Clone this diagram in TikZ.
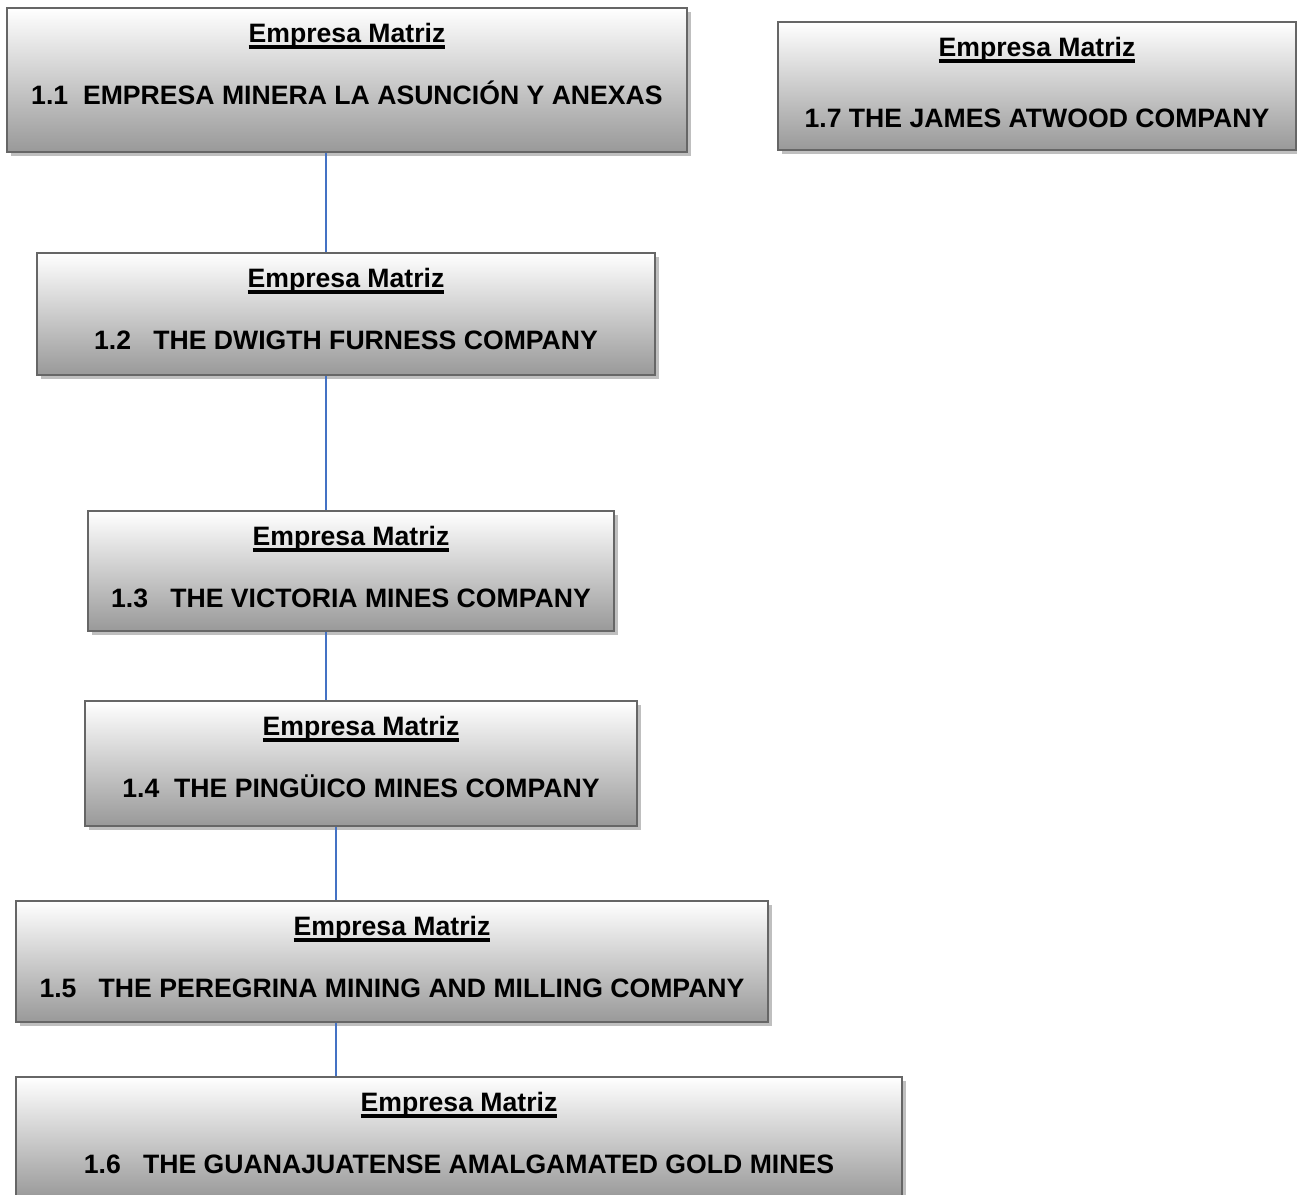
\documentclass[tikz,border=0pt]{standalone}
\usepackage{fontspec}
\setmainfont{Liberation Sans}
\usetikzlibrary{shadows,calc}
\definecolor{linkblue}{RGB}{68,114,196}
\definecolor{boxedge}{RGB}{102,102,102}
\newcommand{\pxu}{0.02cm}
% heavier underline than \underline gives
\newcommand{\thickul}[1]{\setbox0\hbox{#1}\rlap{\rule[-0.125cm]{\wd0}{0.075cm}}\box0}

\begin{document}
\begin{tikzpicture}[x=\pxu, y=-\pxu,
    box/.style={draw=boxedge, line width=1.2pt, top color=white, bottom color=black!40,
        inner sep=0pt, drop shadow={shadow xshift=0.08cm, shadow yshift=-0.08cm, fill=black!25, opacity=1}},
    title/.style={anchor=base, inner sep=0pt, font=\bfseries\fontsize{15.15}{18}\selectfont},
    link/.style={draw=linkblue, line width=0.85pt}]

    % picture frame, the last box runs off the bottom
    \clip (0,0) rectangle (1297,1194);

    % spine of boxes
    \node[box, minimum width=680*\pxu, minimum height=144*\pxu] (b1) at (347,80) {};
    \node[box, minimum width=618*\pxu, minimum height=122*\pxu] (b2) at (346,314) {};
    \node[box, minimum width=526*\pxu, minimum height=120*\pxu] (b3) at (351,571) {};
    \node[box, minimum width=552*\pxu, minimum height=125*\pxu] (b4) at (361,763.5) {};
    \node[box, minimum width=752*\pxu, minimum height=121*\pxu] (b5) at (392,961.5) {};
    \node[box, minimum width=886*\pxu, minimum height=122*\pxu] (b6) at (459,1138) {};

    % box on its own to the right
    \node[box, minimum width=518*\pxu, minimum height=128*\pxu] (b7) at (1037,86) {};

    % heading of every box
    \foreach \i in {1,...,7}
    \node[title] (h\i) at ($(b\i.north)+(0,36)$) {\thickul{Empresa Matriz}};

    % company names
    \node[title] (n1) at ($(b1.north)+(0,98)$) {1.1\ \ EMPRESA MINERA LA ASUNCIÓN Y ANEXAS};
    \node[title] (n2) at ($(b2.north)+(0,98)$) {1.2\ \ \ THE DWIGTH FURNESS COMPANY};
    \node[title] (n3) at ($(b3.north)+(0,98)$) {1.3\ \ \ THE VICTORIA MINES COMPANY};
    \node[title] (n4) at ($(b4.north)+(0,98)$) {1.4\ \ THE PINGÜICO MINES COMPANY};
    \node[title] (n5) at ($(b5.north)+(0,98)$) {1.5\ \ \ THE PEREGRINA MINING AND MILLING COMPANY};
    \node[title] (n6) at ($(b6.north)+(0,98)$) {1.6\ \ \ THE GUANAJUATENSE AMALGAMATED GOLD MINES};
    \node[title] (n7) at ($(b7.north)+(0,107)$) {1.7 THE JAMES ATWOOD COMPANY};

    % vertical links between the boxes
    \coordinate (l1) at (326,0);
    \coordinate (l2) at (336,0);
    \foreach \a/\b/\c in {1/2/l1, 2/3/l1, 3/4/l1, 4/5/l2, 5/6/l2}
    \draw[link] (b\a.south -| \c) -- (b\b.north -| \c);

\end{tikzpicture}
\end{document}
